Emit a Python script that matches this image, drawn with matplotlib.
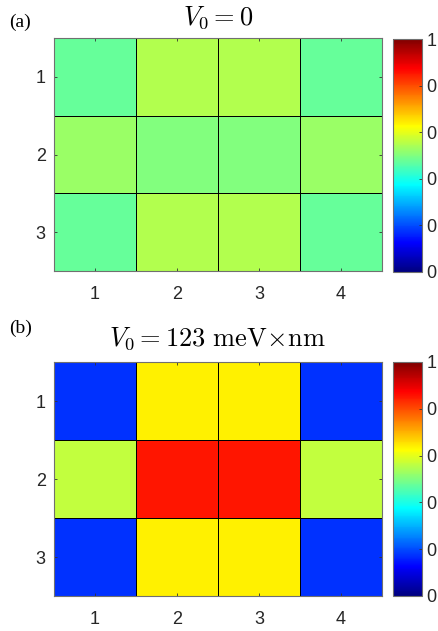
import numpy as np
import matplotlib
matplotlib.use('Agg')
import matplotlib.pyplot as plt
from matplotlib.colors import LinearSegmentedColormap

#-------------------------------------------------------------------------------------
# occupation maps on the 3x4 grid (normalised, colour scale 0..1)
rows = [1, 2, 3]
cols = [1, 2, 3, 4]
occ_a = [[0.473, 0.547, 0.547, 0.473],
         [0.525, 0.500, 0.500, 0.525],
         [0.473, 0.547, 0.547, 0.473]]
occ_b = [[0.175, 0.640, 0.640, 0.175],
         [0.5625, 0.855, 0.855, 0.5625],
         [0.175, 0.640, 0.640, 0.175]]
titles = [r'$V_0 = 0$', r'$V_0 = 123\ \mathrm{meV}\!\times\!\mathrm{nm}$']
panel_tags = ['(a)', '(b)']
cbar_ticks = [0, 0.2, 0.4, 0.6, 0.8, 1]
cbar_labels = ['0', '0', '0', '0', '0', '1']

#-------------------------------------------------------------------------------------
# matlab style jet
jet = LinearSegmentedColormap('mjet', {
    'red':   [(0, 0, 0), (3/8, 0, 0), (5/8, 1, 1), (7/8, 1, 1), (1, 0.5, 0.5)],
    'green': [(0, 0, 0), (1/8, 0, 0), (3/8, 1, 1), (5/8, 1, 1), (7/8, 0, 0), (1, 0, 0)],
    'blue':  [(0, 0.5, 0.5), (1/8, 1, 1), (3/8, 1, 1), (5/8, 0, 0), (1, 0, 0)],
}, N=256)

plt.rcParams['mathtext.fontset'] = 'cm'
plt.rcParams['font.family'] = ['Liberation Sans', 'DejaVu Sans']

fig = plt.figure(figsize=(4.39, 6.31), dpi=100)

W, H = 439., 631.
boxes = [(54, 38, 382, 271), (54, 362, 382, 596)]
cboxes = [(393, 39, 422, 272), (393, 362, 422, 596)]
tag_y = [27, 333]
title_y = [25, 346]

for k, data in enumerate([occ_a, occ_b]):
    x0, y0, x1, y1 = boxes[k]
    ax = fig.add_axes([x0/W, 1-y1/H, (x1-x0)/W, (y1-y0)/H])
    xe = np.arange(len(cols)+1) + 0.5
    ye = np.arange(len(rows)+1) + 0.5
    mesh = ax.pcolormesh(xe, ye, np.array(data), cmap=jet, vmin=0, vmax=1,
                         edgecolors='k', linewidth=0.45)
    ax.set_xlim(0.5, 4.5)
    ax.set_ylim(3.5, 0.5)
    ax.set_xticks(cols)
    ax.set_yticks(rows)
    ax.tick_params(direction='in', length=2.5, width=0.6, top=True, right=True,
                   labelsize=13, color='#333333', labelcolor='#262626')
    ax.tick_params(axis='x', pad=11)
    ax.tick_params(axis='y', pad=6)
    for s in ax.spines.values():
        s.set_color('#707070')
        s.set_linewidth(0.8)

    fig.text(((x0+x1)/2)/W, 1-title_y[k]/H, titles[k], ha='center', va='baseline',
             fontsize=19)
    fig.text(9/W, 1-tag_y[k]/H, panel_tags[k], ha='left', va='baseline',
             fontsize=14, family='Liberation Serif')

    c0, d0, c1, d1 = cboxes[k]
    cax = fig.add_axes([c0/W, 1-d1/H, (c1-c0)/W, (d1-d0)/H])
    cb = fig.colorbar(mesh, cax=cax, ticks=cbar_ticks)
    cb.set_ticklabels(cbar_labels)
    cb.outline.set_edgecolor('#707070')
    cb.outline.set_linewidth(0.8)
    cax.tick_params(direction='in', length=2.5, width=0.6, labelsize=13,
                    pad=3, color='#333333', labelcolor='#262626')

fig.savefig('out.png', dpi=100)
